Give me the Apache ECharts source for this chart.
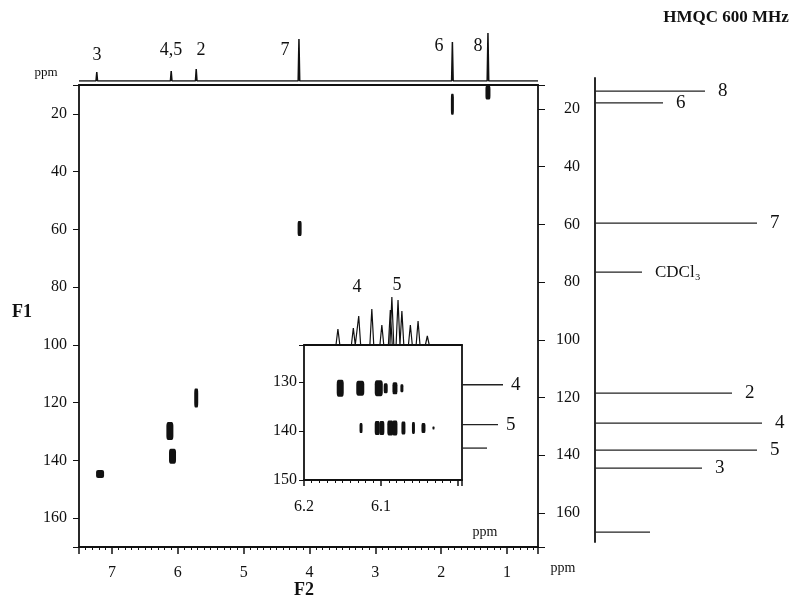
<!DOCTYPE html>
<html>
<head>
<meta charset="utf-8">
<title>HMQC 600 MHz</title>
<script src="https://cdn.jsdelivr.net/npm/echarts@6.0.0/dist/echarts.min.js"></script>
<style>
  html, body { margin: 0; padding: 0; background: #fff; }
  #chart { width: 801px; height: 603px; }
</style>
</head>
<body>
<div id="chart"></div>
<script>
// 1H projection on top (F2): shift in ppm, peak height
const protonShift = [7.23, 6.10, 5.72, 4.16, 1.83, 1.29]
const protonHeight = [9, 10, 12, 42, 39, 48]

// HMQC cross peaks, F2 / F1 in ppm
const crossF2 = [1.29, 1.83, 4.15, 5.72, 6.12, 6.08, 7.18]
const crossF1 = [12.6, 16.7, 59.7, 118.4, 129.8, 138.6, 144.7]

// 13C projection on the right (F1)
const carbonShift = [13.8, 17.9, 59.5, 76.5, 118.4, 128.8, 138.2, 144.4, 166.6]
const carbonHeight = [110, 68, 162, 47, 137, 167, 162, 107, 55]
const carbonLabels = ['8', '6', '7', 'CDCl₃', '2', '4', '5', '3', '']

// expansion of the 4 / 5 region
const insetRow4F2 = [6.153, 6.127, 6.103, 6.094, 6.082, 6.073]
const insetRow5F2 = [6.126, 6.105, 6.099, 6.088, 6.082, 6.071, 6.058, 6.045, 6.032]
const insetRowF1 = [131.3, 139.4]
const insetTopShift = [6.156, 6.136, 6.129, 6.112, 6.099, 6.088, 6.086, 6.078, 6.073, 6.062, 6.052, 6.040]
const insetTopHeight = [16, 17, 29, 36, 20, 35, 48, 45, 34, 20, 24, 9]
const insetSideShift = [130.6, 138.7, 143.5]
const insetSideHeight = [41, 36, 25]
const insetSideLabels = ['4', '5', '']

// tick labels
const f2Ticks = [7, 6, 5, 4, 3, 2, 1]
const f1Ticks = [20, 40, 60, 80, 100, 120, 140, 160]
const insetF2Ticks = [6.2, 6.1]
const insetF1Ticks = [130, 140, 150]

// blob sizes (style only)
const crossSize = [[5, 14], [3, 21], [4, 15], [4, 19], [7, 18], [7, 15], [8, 8]]
const row4Size = [[7, 17], [8, 15], [8, 16], [4, 10], [5, 12], [3, 8]]
const row5Size = [[3, 10], [5, 14], [5, 14], [6, 15], [5, 15], [4, 13], [3, 12], [4, 10], [2, 3]]

const SERIF = 'Liberation Serif, DejaVu Serif, serif'
const INK = '#111'

const pick = ( list, digits ) => v => {
  const hit = list.find( t => Math.abs( t - v ) < 1e-6 )
  return hit === undefined ? '' : ( digits ? hit.toFixed( digits ) : String( hit ) )
}

// stick spectrum: baseline with narrow peaks
const stickLine = ( shifts, heights, from, to, half ) => {
  const pts = [[from, 0]]
  shifts.forEach( ( s, i ) => {
    pts.push( [s + half, 0], [s, heights[i]], [s - half, 0] )
  } )
  pts.push( [to, 0] )
  return pts
}

const lineOnly = ( extra ) => Object.assign( {
  type : 'value',
  axisLine : { show : true, onZero : false, lineStyle : { color : INK, width : 1.8 } },
  axisTick : { show : false },
  axisLabel : { show : false },
  splitLine : { show : false }
}, extra )

const hidden = ( extra ) => Object.assign( { type : 'value', show : false, splitLine : { show : false } }, extra )

const tickLabel = { fontFamily : SERIF, fontSize : 16, color : INK }

const text = ( str, x, y, size, bold ) => ( {
  type : 'text',
  x, y,
  style : {
    text : str,
    font : ( bold ? 'bold ' : '' ) + size + 'px ' + SERIF,
    fill : INK,
    align : 'center',
    verticalAlign : 'middle'
  }
} )

// horizontal stick with a label at its end, drawn through the axes
const sideSticks = ( labels, gap ) => ( params, api ) => {
  const a = api.coord( [0, api.value( 1 )] )
  const b = api.coord( [api.value( 0 ), api.value( 1 )] )
  const label = labels[params.dataIndex]
  return {
    type : 'group',
    children : [
      { type : 'line', shape : { x1 : a[0], y1 : a[1], x2 : b[0], y2 : b[1] }, style : { stroke : '#222', lineWidth : 1.3 } },
      {
        type : 'text', x : b[0] + gap, y : b[1],
        style : {
          text : label,
          font : ( label.length > 1 ? 17 : 19 ) + 'px ' + SERIF,
          fill : INK, align : 'left', verticalAlign : 'middle'
        }
      }
    ]
  }
}

const chart = echarts.init( document.getElementById( 'chart' ) )
chart.setOption( {
  animation : false,
  backgroundColor : '#fff',
  grid : [
    { left : 79, top : 85, width : 459, height : 462 },
    { left : 79, top : 28, width : 459, height : 53 },
    { left : 595, top : 78, width : 200, height : 464 },
    { left : 304, top : 345, width : 158, height : 135 },
    { left : 304, top : 295, width : 158, height : 50 },
    { left : 462, top : 345, width : 50, height : 135 }
  ],
  xAxis : [
    {
      type : 'value', gridIndex : 0, position : 'bottom', min : 0.53, max : 7.5, inverse : true, splitNumber : 7,
      axisLine : { onZero : false, lineStyle : { color : INK, width : 1.8 } },
      axisTick : { length : 7, lineStyle : { color : INK, width : 1.5 } },
      minorTick : { show : true, splitNumber : 10, length : 3, lineStyle : { color : INK } },
      axisLabel : Object.assign( { margin : 18, formatter : pick( f2Ticks ) }, tickLabel ),
      splitLine : { show : false }
    },
    lineOnly( { gridIndex : 0, position : 'top', min : 0.53, max : 7.5, inverse : true } ),
    hidden( { gridIndex : 1, min : 0.53, max : 7.5, inverse : true } ),
    hidden( { gridIndex : 2, min : 0, max : 200 } ),
    {
      type : 'value', gridIndex : 3, position : 'bottom', min : 5.995, max : 6.2, inverse : true, splitNumber : 2,
      axisLine : { onZero : false, lineStyle : { color : INK, width : 1.8 } },
      axisTick : { length : 6, lineStyle : { color : INK, width : 1.5 } },
      minorTick : { show : true, splitNumber : 10, length : 3, lineStyle : { color : INK } },
      axisLabel : Object.assign( { margin : 19, formatter : pick( insetF2Ticks, 1 ), showMinLabel : true, showMaxLabel : true }, tickLabel ),
      splitLine : { show : false }
    },
    lineOnly( { gridIndex : 3, position : 'top', min : 5.995, max : 6.2, inverse : true } ),
    hidden( { gridIndex : 4, min : 5.995, max : 6.2, inverse : true } ),
    hidden( { gridIndex : 5, min : 0, max : 50 } )
  ],
  yAxis : [
    {
      type : 'value', gridIndex : 0, position : 'left', min : 10, max : 170, inverse : true, splitNumber : 8,
      axisLine : { onZero : false, lineStyle : { color : INK, width : 1.8 } },
      axisTick : { length : 6, lineStyle : { color : INK } },
      axisLabel : Object.assign( { margin : 12, formatter : pick( f1Ticks ) }, tickLabel ),
      splitLine : { show : false }
    },
    {
      type : 'value', gridIndex : 0, position : 'right', min : 11.7, max : 171.8, inverse : true, splitNumber : 8,
      axisLine : { onZero : false, lineStyle : { color : INK, width : 1.8 } },
      axisTick : { length : 7, lineStyle : { color : INK } },
      axisLabel : Object.assign( { margin : 42, align : 'right', formatter : pick( f1Ticks ) }, tickLabel ),
      splitLine : { show : false }
    },
    hidden( { gridIndex : 1, min : 0, max : 53 } ),
    lineOnly( { gridIndex : 2, position : 'left', min : 9.26, max : 170, inverse : true } ),
    {
      type : 'value', gridIndex : 3, position : 'left', min : 122.5, max : 150, inverse : true, splitNumber : 3,
      axisLine : { onZero : false, lineStyle : { color : INK, width : 1.8 } },
      axisTick : { length : 5, lineStyle : { color : INK } },
      axisLabel : Object.assign( { margin : 7, formatter : pick( insetF1Ticks ), showMaxLabel : true }, tickLabel ),
      splitLine : { show : false }
    },
    lineOnly( { gridIndex : 3, position : 'right', min : 122.5, max : 150, inverse : true } ),
    hidden( { gridIndex : 4, min : 0, max : 50 } ),
    hidden( { gridIndex : 5, min : 122.5, max : 150, inverse : true } )
  ],
  series : [
    {
      name : '1H projection', type : 'line', xAxisIndex : 2, yAxisIndex : 2,
      data : stickLine( protonShift, protonHeight, 7.5, 0.53, 0.012 ),
      symbol : 'none', lineStyle : { color : INK, width : 1.5 }
    },
    {
      name : 'cross peaks', type : 'scatter', xAxisIndex : 0, yAxisIndex : 0,
      data : crossF2.map( ( x, i ) => [x, crossF1[i]] ),
      symbol : 'roundRect',
      symbolSize : ( v, p ) => crossSize[p.dataIndex],
      itemStyle : { color : INK, opacity : 1 }
    },
    {
      name : '13C projection', type : 'custom', xAxisIndex : 3, yAxisIndex : 3,
      data : carbonShift.map( ( y, i ) => [carbonHeight[i], y] ),
      renderItem : sideSticks( carbonLabels, 13 )
    },
    {
      name : 'H4', type : 'scatter', xAxisIndex : 4, yAxisIndex : 4,
      data : insetRow4F2.map( x => [x, insetRowF1[0]] ),
      symbol : 'roundRect',
      symbolSize : ( v, p ) => row4Size[p.dataIndex],
      itemStyle : { color : INK, opacity : 1 }
    },
    {
      name : 'H5', type : 'scatter', xAxisIndex : 4, yAxisIndex : 4,
      data : insetRow5F2.map( x => [x, insetRowF1[1]] ),
      symbol : 'roundRect',
      symbolSize : ( v, p ) => row5Size[p.dataIndex],
      itemStyle : { color : INK, opacity : 1 }
    },
    {
      name : 'inset 1H', type : 'line', xAxisIndex : 6, yAxisIndex : 6,
      data : stickLine( insetTopShift, insetTopHeight, 6.2, 5.995, 0.0025 ),
      symbol : 'none', lineStyle : { color : INK, width : 1.2 }
    },
    {
      name : 'inset 13C', type : 'custom', xAxisIndex : 7, yAxisIndex : 7,
      data : insetSideShift.map( ( y, i ) => [insetSideHeight[i], y] ),
      renderItem : sideSticks( insetSideLabels, 8 )
    }
  ],
  graphic : [
    text( 'HMQC 600 MHz', 726, 18, 17, true ),
    text( 'ppm', 46, 73, 13 ),
    text( 'F1', 22, 312, 18, true ),
    text( 'F2', 304, 590, 18, true ),
    text( 'ppm', 563, 568, 14 ),
    text( 'ppm', 485, 532, 14 ),
    text( '4', 357, 287, 18 ),
    text( '5', 397, 285, 18 ),
    text( '3', 97, 55, 18 ),
    text( '4,5', 171, 50, 18 ),
    text( '2', 201, 50, 18 ),
    text( '7', 285, 50, 18 ),
    text( '6', 439, 46, 18 ),
    text( '8', 478, 46, 18 )
  ]
} )
</script>
</body>
</html>
